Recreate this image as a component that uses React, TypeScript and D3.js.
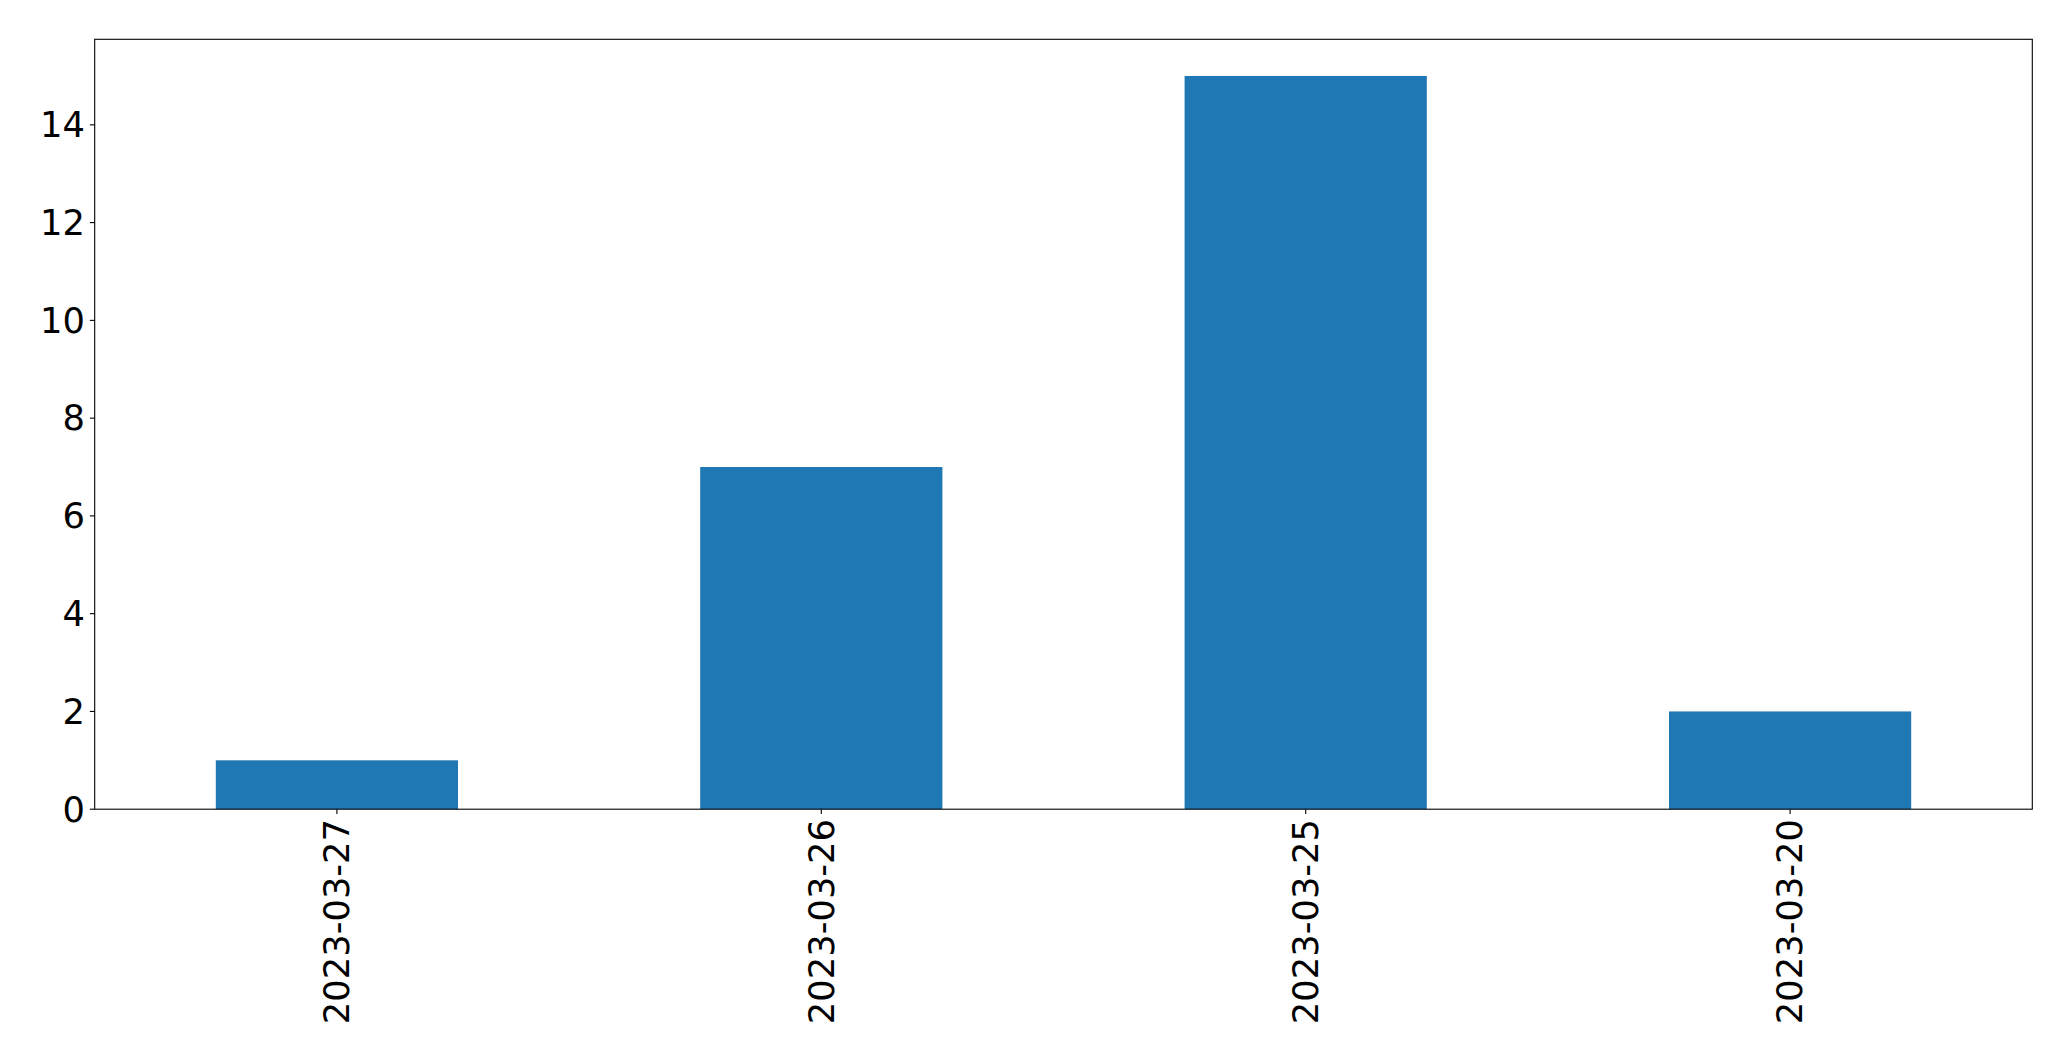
import React from "react";
import * as d3 from "d3";

const categories = ["2023-03-27", "2023-03-26", "2023-03-25", "2023-03-20"];
const values = [1, 7, 15, 2];
const yTicks = [0, 2, 4, 6, 8, 10, 12, 14];

const W = 2071;
const H = 1061;
const M = { left: 94.7, right: 2032.3, top: 39.3, bottom: 809.2 };
const FONT = "'DejaVu Sans', sans-serif";
const FS = 35.3;
const TICK = 4.9;
const PAD = 4.9;

export default function App() {
  const x = d3.scaleLinear().domain([-0.5, categories.length - 0.5]).range([M.left, M.right]);
  const y = d3.scaleLinear().domain([0, d3.max(values)! * 1.05]).range([M.bottom, M.top]);
  const bw = x(0.25) - x(-0.25);
  return (
    <svg width={W} height={H} style={{ position: "absolute", left: 0, top: 0 }}>
      <rect x={0} y={0} width={W} height={H} fill="white" />
      {values.map((v, i) => (
        <rect key={i} x={x(i) - bw / 2} y={y(v)} width={bw} height={y(0) - y(v)} fill="#1f77b4" />
      ))}
      <rect x={M.left} y={M.top} width={M.right - M.left} height={M.bottom - M.top} fill="none" stroke="black" strokeWidth={1.1} />
      {yTicks.map((t) => (
        <g key={t}>
          <line x1={M.left - TICK} x2={M.left} y1={y(t)} y2={y(t)} stroke="black" strokeWidth={1.1} />
          <text x={M.left - TICK - PAD} y={y(t)} dy="0.35em" textAnchor="end" fontFamily={FONT} fontSize={FS} fill="black">
            {t}
          </text>
        </g>
      ))}
      {categories.map((c, i) => (
        <g key={c}>
          <line x1={x(i)} x2={x(i)} y1={M.bottom} y2={M.bottom + TICK} stroke="black" strokeWidth={1.1} />
          <text
            transform={`translate(${x(i)},${M.bottom + TICK + PAD}) rotate(-90)`}
            textAnchor="end"
            dy="0.35em"
            fontFamily={FONT}
            fontSize={FS}
            fill="black"
          >
            {c}
          </text>
        </g>
      ))}
    </svg>
  );
}
